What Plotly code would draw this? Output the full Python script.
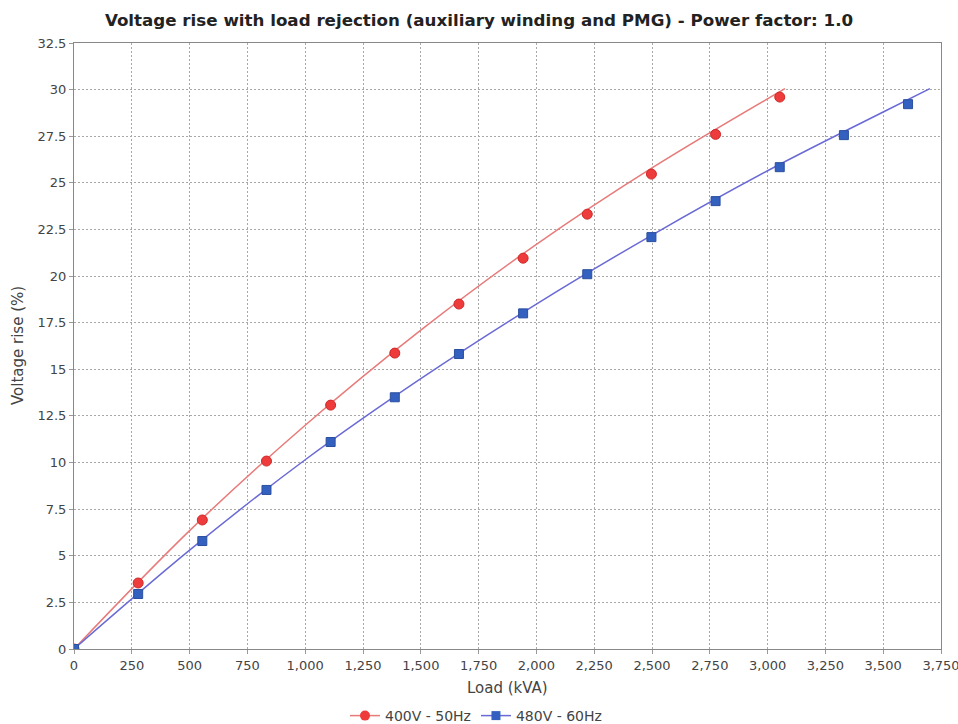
import plotly.graph_objects as go

# Measured points
load_kva = [0, 277.5, 555, 832.5, 1110, 1387.5, 1665, 1942.5, 2220, 2497.5, 2775, 3052.5, 3330, 3607.5]
rise_400v_50hz = [0, 3.54, 6.92, 10.08, 13.08, 15.87, 18.5, 20.96, 23.32, 25.47, 27.6, 29.6]
rise_480v_60hz = [0, 2.95, 5.79, 8.53, 11.1, 13.5, 15.82, 18.0, 20.1, 22.09, 24.02, 25.84, 27.56, 29.22]

# Trend curves
fit_400_x = [0, 500, 1000, 1500, 2000, 2500, 3075]
fit_400_y = [0, 6.35, 12.0, 17.1, 21.7, 25.8, 30.05]
fit_480_x = [0, 500, 1000, 1500, 2000, 2500, 3000, 3500, 3702]
fit_480_y = [0, 5.3, 10.15, 14.5, 18.5, 22.2, 25.65, 28.8, 30.05]

x_ticks = list(range(0, 3751, 250))
y_ticks = [i * 2.5 for i in range(14)]

RED = "#ee3b3b"
RED_LINE = "#e87a7a"
BLUE = "#3460c0"
BLUE_LINE = "#6a6ad6"
FONT = "DejaVu Sans"

fig = go.Figure()
fig.add_trace(go.Scatter(x=fit_400_x, y=fit_400_y, mode="lines", line=dict(color=RED_LINE, width=1.5, shape="spline"),
                         showlegend=False, hoverinfo="skip"))
fig.add_trace(go.Scatter(x=fit_480_x, y=fit_480_y, mode="lines", line=dict(color=BLUE_LINE, width=1.5, shape="spline"),
                         showlegend=False, hoverinfo="skip"))
fig.add_trace(go.Scatter(x=load_kva[:len(rise_400v_50hz)], y=rise_400v_50hz, mode="markers",
                         marker=dict(symbol="circle", size=10, color=RED, line=dict(color="#d02828", width=1)),
                         showlegend=False, name="400V - 50Hz"))
fig.add_trace(go.Scatter(x=load_kva[:len(rise_480v_60hz)], y=rise_480v_60hz, mode="markers",
                         marker=dict(symbol="square", size=9, color=BLUE, line=dict(color="#2a4f9f", width=1)),
                         showlegend=False, name="480V - 60Hz"))
# legend entries
fig.add_trace(go.Scatter(x=[None], y=[None], mode="lines+markers", name="400V - 50Hz",
                         line=dict(color=RED_LINE, width=1.5),
                         marker=dict(symbol="circle", size=10, color=RED)))
fig.add_trace(go.Scatter(x=[None], y=[None], mode="lines+markers", name="480V - 60Hz",
                         line=dict(color=BLUE_LINE, width=1.5),
                         marker=dict(symbol="square", size=9, color=BLUE)))

axis_common = dict(
    showgrid=True, gridcolor="#a8a8a8", griddash="2px,2px", gridwidth=1,
    showline=True, linecolor="#888888", linewidth=1, mirror=True,
    ticks="outside", ticklen=4, tickcolor="#999999",
    zeroline=False, automargin=False, ticklabeloverflow="allow",
    tickfont=dict(family=FONT, size=13, color="#444444"),
)

fig.update_layout(
    width=958, height=724,
    margin=dict(l=74, r=17, t=43, b=75, autoexpand=False),
    paper_bgcolor="white", plot_bgcolor="white",
    title=dict(text="<b>Voltage rise with load rejection (auxiliary winding and PMG) - Power factor: 1.0</b>",
               x=0.5, xanchor="center", xref="container", y=1 - 20 / 724, yanchor="middle",
               font=dict(family=FONT, size=16.7, color="#222222")),
    xaxis=dict(range=[0, 3750], tickvals=x_ticks, tickformat=",d", **axis_common),
    yaxis=dict(range=[0, 32.5], tickvals=y_ticks, **axis_common),
    annotations=[
        dict(text="Load (kVA)", xref="paper", yref="paper", x=0.5, y=(649 - 688) / 606,
             xanchor="center", yanchor="middle", showarrow=False,
             font=dict(family=FONT, size=15, color="#444444")),
        dict(text="Voltage rise (%)", xref="paper", yref="paper", x=(18 - 74) / 867, y=0.5,
             xanchor="center", yanchor="middle", showarrow=False, textangle=-90,
             font=dict(family=FONT, size=15, color="#444444")),
    ],
    legend=dict(orientation="h", x=(476 - 74) / 867, xanchor="center", y=(649 - 716) / 606, yanchor="middle",
                font=dict(family=FONT, size=14, color="#444444"),
                itemwidth=30, tracegroupgap=0),
    showlegend=True,
)

fig.write_html("out.html", config={"displayModeBar": False},
               post_script="document.body.style.margin='0';document.body.style.overflow='hidden';")
